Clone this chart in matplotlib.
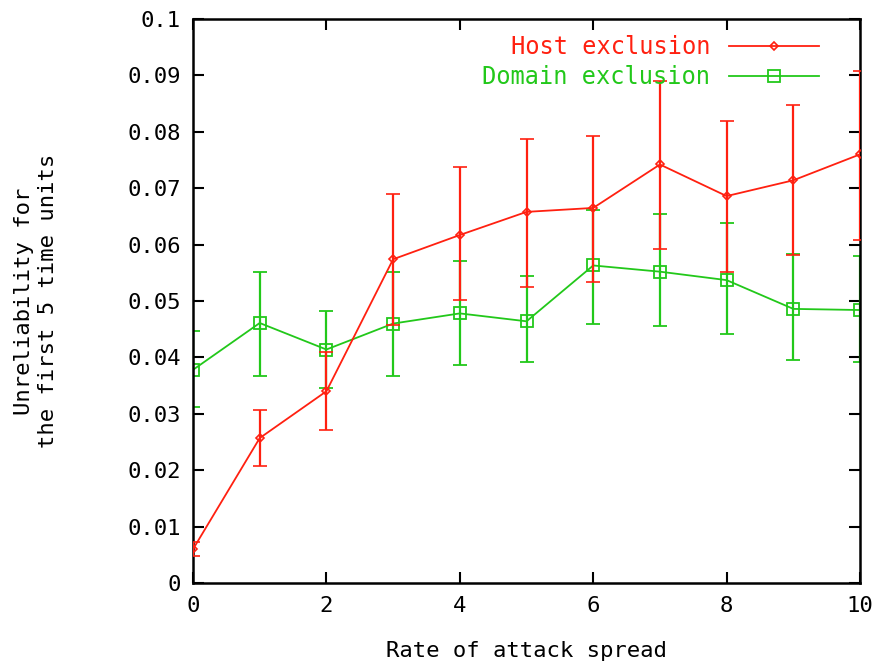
import matplotlib
matplotlib.use("Agg")
import matplotlib.pyplot as plt
from matplotlib.lines import Line2D
import numpy as np

# rate of attack spread
rate = [0, 1, 2, 3, 4, 5, 6, 7, 8, 9, 10]

# host exclusion: mean, lower and upper end of error bar
host = [0.0060, 0.0257, 0.0340, 0.0574, 0.0617, 0.0658, 0.0665, 0.0742, 0.0686, 0.0714, 0.0760]
host_lo = [0.0048, 0.0207, 0.0271, 0.0458, 0.0501, 0.0525, 0.0534, 0.0593, 0.0552, 0.0581, 0.0608]
host_hi = [0.0072, 0.0307, 0.0409, 0.0690, 0.0738, 0.0787, 0.0793, 0.0890, 0.0820, 0.0847, 0.0908]

# domain exclusion
domain = [0.0378, 0.0461, 0.0414, 0.0460, 0.0478, 0.0464, 0.0563, 0.0552, 0.0537, 0.0486, 0.0484]
domain_lo = [0.0312, 0.0367, 0.0345, 0.0367, 0.0386, 0.0391, 0.0460, 0.0456, 0.0441, 0.0396, 0.0391]
domain_hi = [0.0447, 0.0552, 0.0483, 0.0552, 0.0571, 0.0544, 0.0661, 0.0654, 0.0639, 0.0584, 0.0580]

RED = "#ff2010"
GREEN = "#22c81a"
FONT = "DejaVu Sans Mono"
FS = 16


def main():
    fig = plt.figure(figsize=(8.87, 6.68), dpi=100)
    ax = fig.add_axes([0.2176, 0.1272, 0.752, 0.8444])

    h = np.array(host)
    d = np.array(domain)
    h_err = [h - np.array(host_lo), np.array(host_hi) - h]
    d_err = [d - np.array(domain_lo), np.array(domain_hi) - d]

    red_style = dict(color=RED, lw=1.3, marker="D", markersize=4,
                     markerfacecolor="none", markeredgewidth=1.2)
    green_style = dict(color=GREEN, lw=1.3, marker="s", markersize=8,
                       markerfacecolor="none", markeredgewidth=1.3)

    ax.errorbar(rate, host, yerr=h_err, elinewidth=1.6, capsize=5,
                capthick=1.6, zorder=3, **red_style)
    ax.errorbar(rate, domain, yerr=d_err, elinewidth=1.6, capsize=5,
                capthick=1.6, zorder=2, **green_style)

    ax.set_xlim(0, 10)
    ax.set_ylim(0, 0.1)
    ax.set_xticks([0, 2, 4, 6, 8, 10])
    yt = np.arange(0, 11) / 100
    ax.set_yticks(yt)
    ax.set_yticklabels(["0"] + ["%.2f" % v for v in yt[1:-1]] + ["0.1"])

    ax.tick_params(direction="in", length=8, width=1.5, top=True, right=True,
                   pad=9, labelsize=FS)
    for lab in ax.get_xticklabels() + ax.get_yticklabels():
        lab.set_fontfamily(FONT)
    for sp in ax.spines.values():
        sp.set_linewidth(1.8)

    ax.set_xlabel("Rate of attack spread", fontfamily=FONT, fontsize=FS, labelpad=18)
    ax.set_ylabel("Unreliability for\nthe first 5 time units", fontfamily=FONT,
                  fontsize=FS, labelpad=50, linespacing=1.25)

    handles = [Line2D([], [], **red_style), Line2D([], [], **green_style)]
    ax.legend(handles, ["Host exclusion", "Domain exclusion"],
              loc="upper right", frameon=False, markerfirst=False,
              prop={"family": FONT, "size": FS + 1}, handlelength=3.8,
              handletextpad=0.8, labelcolor="linecolor", borderaxespad=0.3,
              labelspacing=0.25, bbox_to_anchor=(0.963, 1.0))

    fig.savefig("out.png", dpi=100)


main()
